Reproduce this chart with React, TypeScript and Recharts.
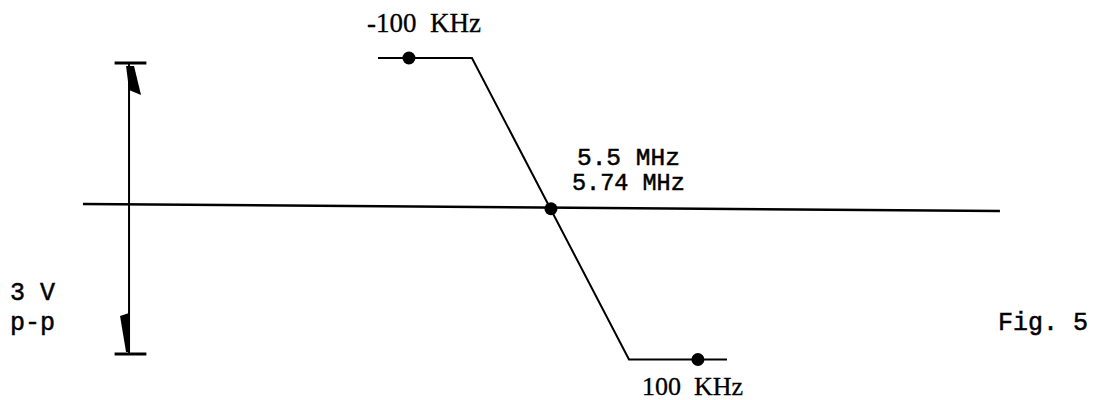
import React from "react";
import { ComposedChart, Line, Scatter, XAxis, YAxis, ReferenceDot, ReferenceLine } from "recharts";

// Discriminator S-curve: x = frequency offset (kHz), v = output (V)
const curveF = [-119.7, -54.7, 54.0, 121.8];
const curveV = [1.5, 1.5, -1.5, -1.5];
const markerF = [-98.3, 0, 101.7];
const markerV = [1.5, 0, -1.5];
// Horizontal zero line (slightly tilted in the scan)
const baseF = [-323.9, 310.7];
const baseV = [0.047, -0.022];
// 3 V p-p amplitude indicator
const ampF = -292.0;
const ampTopV = 1.45;
const ampBottomV = -1.445;
const capF = [-302, -280];

const labelTexts = ["-100  KHz", "100  KHz", "5.5 MHz", "5.74 MHz", "3 V", "p-p", "Fig. 5"];
const labelF = [-127.3, 63.0, 18.0, 14.5, -374.4, -374.4, 309.3];
const labelV = [1.759, -1.853, 0.44, 0.187, -0.908, -1.206, -1.206];
const labelSize = [27, 26, 24.5, 23.5, 25, 25, 25];
const labelKind = ["serif", "serif", "mono", "mono", "mono", "mono", "mono"];

const X_DOMAIN: [number, number] = [-381.3, 375.8];
const Y_DOMAIN: [number, number] = [-1.903, 2.077];

const curveData = curveF.map((x, i) => ({ x, volts: curveV[i] }));
const markerData = markerF.map((x, i) => ({ x, mark: markerV[i] }));

const SERIF = "'Liberation Serif', 'DejaVu Serif', serif";
const MONO = "'Liberation Mono', 'DejaVu Sans Mono', monospace";

const TopHead = (p: any) => {
  const { cx, cy } = p;
  return (
    <polygon
      points={`${cx - 3},${cy + 3} ${cx + 5},${cy + 3} ${cx + 12},${cy + 32} ${cx},${cy + 27}`}
      fill="#000"
    />
  );
};
const BottomHead = (p: any) => {
  const { cx, cy } = p;
  return (
    <polygon
      points={`${cx - 9},${cy - 38} ${cx},${cy - 41} ${cx},${cy - 2} ${cx - 3},${cy - 2}`}
      fill="#000"
    />
  );
};

const makeText = (text: string, kind: string, size: number) => (p: any) => {
  const { cx, cy } = p;
  const serif = kind === "serif";
  return (
    <text
      x={cx}
      y={cy}
      textAnchor="start"
      fontFamily={serif ? SERIF : MONO}
      fontSize={size}
      fill="#000"
      stroke="#000"
      strokeWidth={serif ? 0.3 : 0.5}
      style={{ whiteSpace: "pre" }}
    >
      {text}
    </text>
  );
};

const Dot = (p: any) => <circle cx={p.cx} cy={p.cy} r={6.5} fill="#000" />;

export default function App() {
  return (
    <div style={{ position: "absolute", left: 0, top: 0, background: "#fff" }}>
      <ComposedChart width={1094} height={400} margin={{ top: 0, right: 0, bottom: 0, left: 0 }}>
        <XAxis type="number" dataKey="x" domain={X_DOMAIN} allowDataOverflow hide />
        <YAxis type="number" domain={Y_DOMAIN} allowDataOverflow hide />
        <ReferenceLine
          segment={[
            { x: baseF[0], y: baseV[0] },
            { x: baseF[1], y: baseV[1] },
          ]}
          stroke="#000"
          strokeWidth={2.5}
          ifOverflow="visible"
        />
        <ReferenceLine
          segment={[
            { x: ampF, y: ampTopV },
            { x: ampF, y: ampBottomV },
          ]}
          stroke="#000"
          strokeWidth={2}
          ifOverflow="visible"
        />
        <ReferenceLine
          segment={[
            { x: capF[0], y: ampTopV },
            { x: capF[1], y: ampTopV },
          ]}
          stroke="#000"
          strokeWidth={3}
          ifOverflow="visible"
        />
        <ReferenceLine
          segment={[
            { x: capF[0], y: ampBottomV },
            { x: capF[1], y: ampBottomV },
          ]}
          stroke="#000"
          strokeWidth={3}
          ifOverflow="visible"
        />
        <Line
          data={curveData}
          dataKey="volts"
          type="linear"
          stroke="#000"
          strokeWidth={2}
          dot={false}
          activeDot={false}
          isAnimationActive={false}
        />
        <Scatter data={markerData} dataKey="mark" fill="#000" shape={Dot} isAnimationActive={false} />
        <ReferenceDot x={ampF} y={ampTopV} r={0} shape={TopHead} />
        <ReferenceDot x={ampF} y={ampBottomV} r={0} shape={BottomHead} />
        {labelTexts.map((t, i) => (
          <ReferenceDot key={t} x={labelF[i]} y={labelV[i]} r={0} shape={makeText(t, labelKind[i], labelSize[i])} />
        ))}
      </ComposedChart>
    </div>
  );
}
